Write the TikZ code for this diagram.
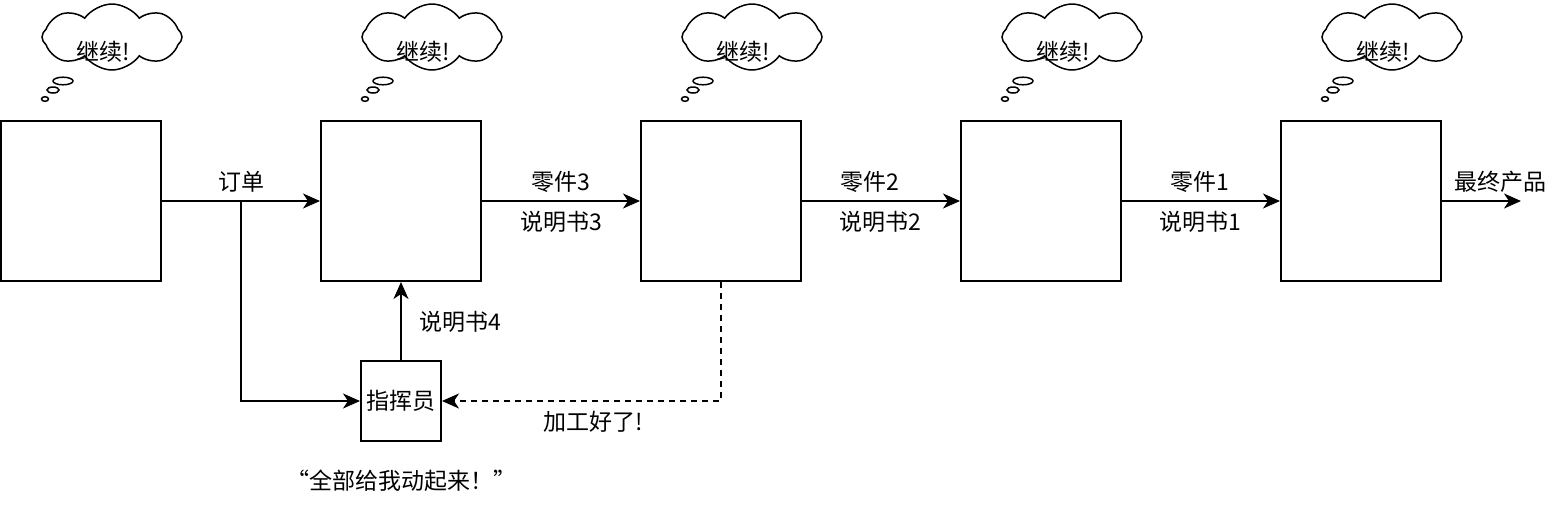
\documentclass[tikz,border=0pt]{standalone}
\usepackage{fontspec}
\setmainfont{Noto Sans CJK SC}
\usetikzlibrary{arrows.meta,shapes.symbols}
\tikzset{
  box/.style={draw, line width=2pt, minimum size=160pt, inner sep=0pt},
  boss/.style={draw, line width=2pt, minimum size=80pt, inner sep=0pt},
  thought/.style={draw, line width=1.5pt, cloud, cloud puffs=8, cloud puff arc=110, aspect=2.1,
    minimum width=140pt, minimum height=66pt, inner sep=0pt},
  bubble/.style={line width=1.5pt},
  arr/.style={line width=2pt, -{Stealth[length=17pt,width=15pt,inset=5pt]}},
  txt/.style={inner sep=0pt, font=\fontsize{23}{27}\selectfont}
}
\begin{document}
\begin{tikzpicture}[x=1pt,y=-1pt]
        \useasboundingbox (0,0) rectangle (1564,504);
        % stations
        \node[box] (b1) at (81,201) {};
        \node[box] (b2) at (401,201) {};
        \node[box] (b3) at (721,201) {};
        \node[box] (b4) at (1041,201) {};
        \node[box] (b5) at (1361,201) {};
        \node[boss] (boss) at (401,401) {};
        \node[txt] at (boss.center) {指挥员};
        % thoughts
        \node[thought,label={[txt,xshift=-9pt,yshift=-15pt]center:继续!}] (c1) at (112,37) {};
        \draw[bubble] (63,81) ellipse [x radius=10pt, y radius=3.8pt];
        \draw[bubble] (53,90) ellipse [x radius=6pt, y radius=3pt];
        \draw[bubble] (45,99) ellipse [x radius=3.5pt, y radius=2.3pt];
        \node[thought,label={[txt,xshift=-9pt,yshift=-15pt]center:继续!}] (c2) at (432,37) {};
        \draw[bubble] (383,81) ellipse [x radius=10pt, y radius=3.8pt];
        \draw[bubble] (373,90) ellipse [x radius=6pt, y radius=3pt];
        \draw[bubble] (365,99) ellipse [x radius=3.5pt, y radius=2.3pt];
        \node[thought,label={[txt,xshift=-9pt,yshift=-15pt]center:继续!}] (c3) at (752,37) {};
        \draw[bubble] (703,81) ellipse [x radius=10pt, y radius=3.8pt];
        \draw[bubble] (693,90) ellipse [x radius=6pt, y radius=3pt];
        \draw[bubble] (685,99) ellipse [x radius=3.5pt, y radius=2.3pt];
        \node[thought,label={[txt,xshift=-9pt,yshift=-15pt]center:继续!}] (c4) at (1072,37) {};
        \draw[bubble] (1023,81) ellipse [x radius=10pt, y radius=3.8pt];
        \draw[bubble] (1013,90) ellipse [x radius=6pt, y radius=3pt];
        \draw[bubble] (1005,99) ellipse [x radius=3.5pt, y radius=2.3pt];
        \node[thought,label={[txt,xshift=-9pt,yshift=-15pt]center:继续!}] (c5) at (1392,37) {};
        \draw[bubble] (1343,81) ellipse [x radius=10pt, y radius=3.8pt];
        \draw[bubble] (1333,90) ellipse [x radius=6pt, y radius=3pt];
        \draw[bubble] (1325,99) ellipse [x radius=3.5pt, y radius=2.3pt];
        % labels
        \node[txt] (order) at (241,182) {订单};
        \node[txt] (part3) at (561,182) {零件3};
        \node[txt] (spec3) at (561,222) {说明书3};
        \node[txt] (part2) at (870,182) {零件2};
        \node[txt] (spec2) at (880,222) {说明书2};
        \node[txt] (part1) at (1200,182) {零件1};
        \node[txt] (spec1) at (1200,222) {说明书1};
        \node[txt] (final) at (1500,182) {最终产品};
        \node[txt] (spec4) at (460,322) {说明书4};
        \node[txt] (done) at (593,422) {加工好了!};
        \node[txt] (shout) at (401,481) {“全部给我动起来！”};
        % flow
        \coordinate (split) at (241,201);
        \coordinate (out) at (1521,201);
        \draw[arr] (b1.east) -- (b2.west);
        \draw[arr] (split) |- (boss.west);
        \draw[arr] (boss.north) -- (b2.south);
        \draw[arr] (b2.east) -- (b3.west);
        \draw[arr] (b3.east) -- (b4.west);
        \draw[arr] (b4.east) -- (b5.west);
        \draw[arr] (b5.east) -- (out);
        \draw[arr, dash pattern=on 6pt off 5pt] (b3.south) |- (boss.east);
\end{tikzpicture}
\end{document}
